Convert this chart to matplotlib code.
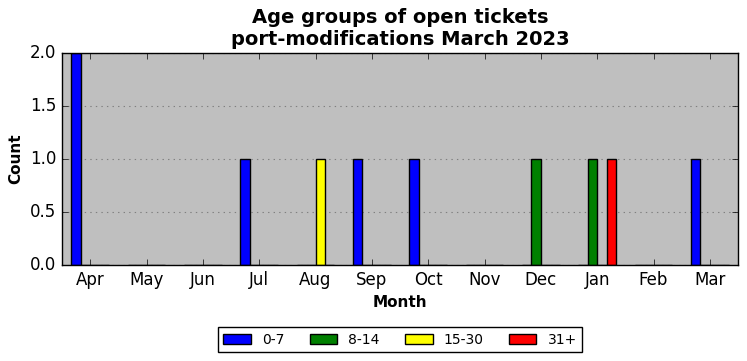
import numpy as np
import matplotlib
matplotlib.use("Agg")
import matplotlib.pyplot as plt

plt.style.use('classic')

# data
months = ['Apr', 'May', 'Jun', 'Jul', 'Aug', 'Sep', 'Oct', 'Nov', 'Dec', 'Jan', 'Feb', 'Mar']
groups = ['0-7', '8-14', '15-30', '31+']
colors = ['blue', 'green', 'yellow', 'red']
age_0_7 = [2, 0, 0, 1, 0, 1, 1, 0, 0, 0, 0, 1]
age_8_14 = [0, 0, 0, 0, 0, 0, 0, 0, 1, 1, 0, 0]
age_15_30 = [0, 0, 0, 0, 1, 0, 0, 0, 0, 0, 0, 0]
age_31 = [0, 0, 0, 0, 0, 0, 0, 0, 0, 1, 0, 0]
series = [age_0_7, age_8_14, age_15_30, age_31]

fig = plt.figure(figsize=(7.47, 3.61), dpi=100, facecolor='white')
ax = fig.add_axes([0.083, 0.266, 0.905, 0.587])
ax.set_facecolor('#bfbfbf')

x = np.arange(len(months))
w = 1 / 6
for i, (vals, lab, col) in enumerate(zip(series, groups, colors)):
    ax.bar(x + (i - 2) * w, vals, width=w, align='edge', color=col,
           edgecolor='black', linewidth=1, label=lab)

ax.set_xlim(-0.5, 11.5)
ax.set_ylim(0, 2)
ax.set_yticks([0, 0.5, 1.0, 1.5, 2.0])
ax.set_xticks(x)
ax.set_xticklabels(months, fontsize=12)
ax.tick_params(axis='y', labelsize=12)
ax.yaxis.grid(True, linestyle=':', color='gray', linewidth=0.8)
ax.set_axisbelow(True)

ax.set_title('Age groups of open tickets\nport-modifications March 2023',
             fontsize=14, fontweight='bold', y=1.005)
ax.set_xlabel('Month', fontsize=11, fontweight='bold')
ax.set_ylabel('Count', fontsize=11, fontweight='bold')

ax.legend(loc='upper center', bbox_to_anchor=(0.5, -0.26), ncol=4,
          fontsize=10, fancybox=False, framealpha=1, edgecolor='black',
          columnspacing=1.8)

fig.savefig('out.png', dpi=100, facecolor='white')
